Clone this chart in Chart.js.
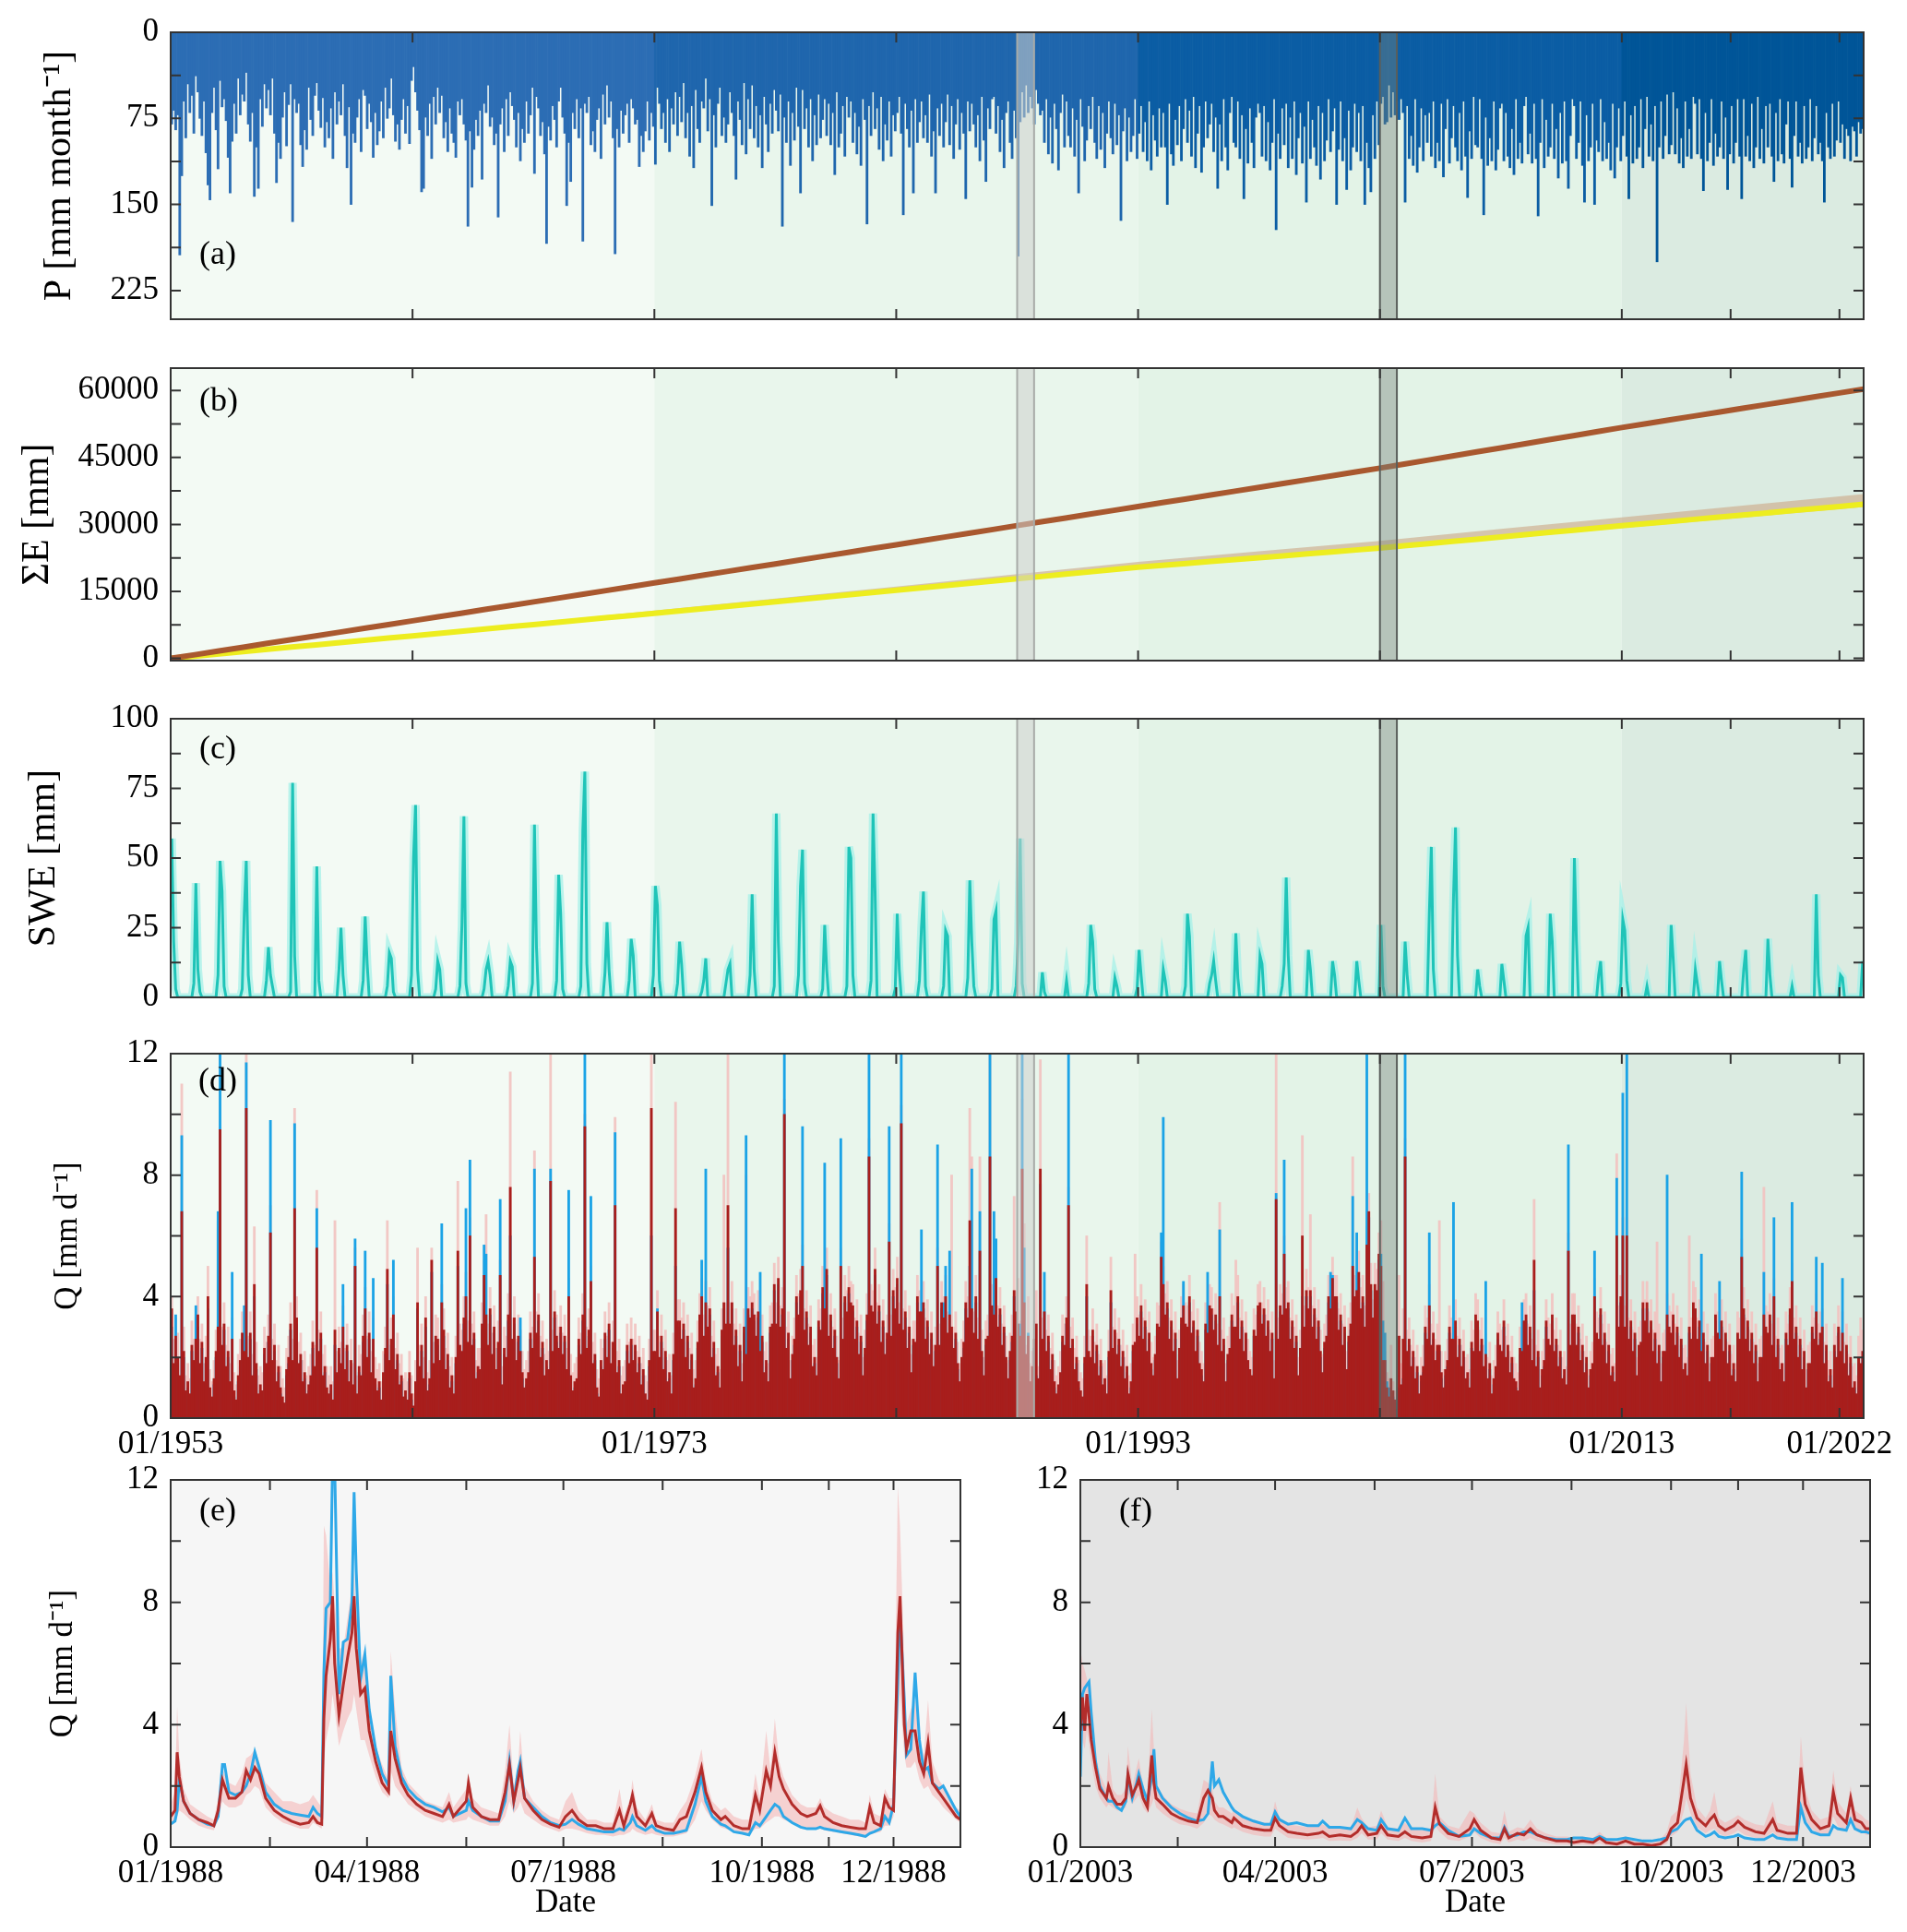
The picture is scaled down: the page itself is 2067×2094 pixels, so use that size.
<!DOCTYPE html>
<html>
<head>
<meta charset="utf-8">
<script src="https://cdn.jsdelivr.net/npm/chart.js@4.4.1/dist/chart.umd.min.js"></script>
<style>
  body { margin: 0; background: #fff; }
  #page { position: relative; width: 2067px; height: 2094px; overflow: hidden; }
  #page canvas { position: absolute; }
</style>
</head>
<body>
<div id="page">
  <canvas id="chartP" width="2067" height="380" style="left:0;top:0"></canvas>
  <canvas id="chartE" width="2067" height="385" style="left:0;top:365px"></canvas>
  <canvas id="chartS" width="2067" height="370" style="left:0;top:745px"></canvas>
  <canvas id="chartQ" width="2067" height="480" style="left:0;top:1108px"></canvas>
  <canvas id="chart88" width="1060" height="524" style="left:0;top:1570px"></canvas>
  <canvas id="chart03" width="1081" height="524" style="left:986px;top:1570px"></canvas>
</div>
<script>
// monthly precipitation, mm/month, Jan 1953 .. Dec 2022 (one row per year)
const precip = [
  80,68,85,72,194,125,60,92,45,70,55,88,
  38,52,75,90,60,105,133,146,70,48,85,119,
  42,65,58,77,109,140,95,62,88,40,72,54,
  60,35,80,95,70,143,100,136,58,82,45,66,
  50,72,40,88,131,96,110,74,52,99,63,45,
  165,58,70,62,98,117,85,102,48,76,90,55,
  44,68,83,57,100,78,92,66,110,52,80,60,
  72,45,90,118,65,150,88,96,74,58,104,50,
  55,84,62,78,109,70,98,86,60,92,48,75,
  66,40,72,95,80,102,76,58,88,64,97,42,
  30,52,68,85,139,136,74,90,62,110,56,80,
  48,70,55,92,78,104,66,88,96,109,60,72,
  58,80,94,169,86,135,102,76,90,68,128,62,
  70,46,82,74,98,88,161,80,66,104,58,90,
  52,64,76,100,70,112,84,96,60,88,72,48,
  123,56,66,90,78,106,184,82,94,64,76,100,
  60,48,74,88,151,96,130,70,84,58,92,66,
  182,62,70,56,98,86,104,76,66,110,54,80,
  46,74,60,92,193,84,100,68,88,72,62,96,
  58,66,80,76,117,90,104,86,60,94,70,82,
  115,48,62,84,70,96,58,104,66,80,52,90,
  56,78,44,92,70,108,64,118,50,84,96,60,
  66,40,86,58,151,72,100,62,48,90,74,96,
  80,52,70,90,128,60,76,98,44,106,58,84,
  46,92,64,100,72,118,56,80,104,62,88,50,
  68,86,54,169,74,96,60,116,70,94,48,82,
  140,50,84,66,100,58,112,72,98,54,92,76,
  58,90,62,98,70,124,52,100,88,64,108,56,
  74,60,96,70,106,82,116,58,76,167,64,90,
  52,84,66,102,56,112,80,94,60,108,72,86,
  70,56,88,159,62,84,100,68,140,58,96,78,
  60,92,72,96,54,108,86,140,66,90,62,100,
  78,54,98,64,110,80,58,102,70,88,145,60,
  86,62,80,100,72,112,56,94,130,66,84,58,
  56,88,64,104,76,118,70,60,96,110,68,92,
  195,78,52,74,46,70,56,66,80,50,62,72,
  68,96,58,106,74,114,62,84,120,70,54,100,
  60,90,100,66,108,76,140,58,82,112,94,64,
  84,56,96,110,64,102,70,118,88,60,92,106,
  62,98,72,164,86,66,112,74,104,90,58,110,
  88,64,104,78,112,60,120,72,94,108,66,100,
  70,100,150,62,106,116,76,98,64,112,84,58,
  96,68,108,56,118,88,64,122,100,60,92,80,
  62,104,74,136,80,112,58,100,120,70,56,96,
  100,60,110,72,145,84,114,66,96,118,74,62,
  70,108,64,112,78,120,96,58,172,88,110,66,
  98,62,118,74,110,60,124,92,70,114,82,148,
  60,110,76,100,116,64,128,70,112,94,58,104,
  86,66,150,102,60,112,92,137,68,120,100,62,
  104,70,112,64,150,96,118,139,72,110,60,98,
  62,56,80,78,46,74,52,72,60,76,58,70,
  148,64,110,90,116,58,122,100,66,112,72,96,
  70,108,60,118,96,112,62,126,84,58,114,92,
  64,100,112,70,120,60,108,144,86,110,56,98,
  100,58,110,159,74,116,92,112,60,120,102,66,
  62,112,70,108,118,84,124,58,110,96,114,64,
  56,106,88,114,62,110,160,96,58,118,76,108,
  100,62,110,84,127,70,114,60,112,136,90,58,
  64,110,96,60,116,148,72,112,100,62,150,94,
  104,58,112,78,110,96,120,62,127,100,66,112,
  90,60,108,145,72,114,64,110,100,58,118,84,
  56,108,80,112,64,200,100,60,110,90,54,106,
  98,52,106,66,114,92,118,60,108,84,110,56,
  62,106,58,110,138,70,112,96,58,116,88,108,
  100,60,110,74,137,106,64,114,96,58,108,145,
  58,108,90,112,62,118,100,56,110,84,114,64,
  100,62,108,130,70,112,58,106,114,80,60,110,
  135,90,60,108,96,114,64,110,100,58,112,92,
  64,106,96,112,148,70,100,110,62,108,94,60,
  96,80,110,84,90,112,82,86,108,78,88,84
];

// cumulative evapotranspiration, mm, at the start of each year 1953 .. 2023
const etYears = [1953,1954,1955,1956,1957,1958,1959,1960,1961,1962,1963,1964,1965,1966,1967,1968,1969,1970,1971,1972,
  1973,1974,1975,1976,1977,1978,1979,1980,1981,1982,1983,1984,1985,1986,1987,1988,1989,1990,1991,1992,
  1993,1994,1995,1996,1997,1998,1999,2000,2001,2002,2003,2004,2005,2006,2007,2008,2009,2010,2011,2012,
  2013,2014,2015,2016,2017,2018,2019,2020,2021,2022,2023];
const etObs = [0,820,1680,2510,3360,4210,5040,5880,6720,7570,8410,9260,10090,10950,11790,12640,13470,14330,15180,16040,
  16900,17750,18600,19460,20310,21160,22030,22870,23740,24590,25440,26310,27160,28020,28870,29740,30590,31440,32300,33150,
  34000,34880,35720,36590,37440,38310,39170,40030,40890,41740,
  42600,43520,44410,45330,46250,47140,48060,48980,49870,50790,
  51700,52560,53430,54280,55140,56010,56860,57730,58590,59440,60300];
const etSim = [0,490,1010,1500,2020,2530,3020,3540,4030,4550,5040,5560,6050,6570,7080,7570,8090,8580,9100,9590,
  10100,10620,11120,11650,12150,12680,13190,13710,14210,14740,15240,15770,16270,16800,17300,17830,18330,18860,19360,19890,
  20400,20840,21250,21700,22110,22560,22970,23420,23830,24270,
  24700,25210,25690,26210,26690,27210,27690,28210,28690,29210,
  29700,30190,30650,31140,31610,32100,32570,33060,33530,34020,34500];
const etBandYears = [1953,1958,1963,1968,1973,1978,1983,1988,1993,1998,2003,2008,2013,2018,2023];
const etBandHi = [0,2700,5350,8000,10700,13400,16100,18850,21600,24000,26300,29000,31600,34200,36800];
const etBandLo = [0,2480,4960,7440,9950,12450,14950,17450,19950,22100,24250,26700,29200,31550,33900];

// snow water equivalent, mm, monthly Jan 1953 .. Dec 2022
const swe = [
  57,20,3,0,0,0,0,0,0,0,0,5,  41,10,2,0,0,0,0,0,0,0,0,8,  49,38,4,0,0,0,0,0,0,0,0,3,
  30,49,8,0,0,0,0,0,0,0,0,6,  18,8,4,0,0,0,0,0,0,0,0,2,   77,15,0,0,0,0,0,0,0,0,0,0,
  47,6,0,0,0,0,0,0,0,0,0,10,  25,8,0,0,0,0,0,0,0,0,0,6,   29,12,0,0,0,0,0,0,0,0,0,4,
  16,14,2,0,0,0,0,0,0,0,0,8,  50,69,10,0,0,0,0,0,0,0,0,3, 13,10,0,0,0,0,0,0,0,0,0,4,
  26,65,5,0,0,0,0,0,0,0,0,3,  10,13,8,0,0,0,0,0,0,0,0,4,  13,11,0,0,0,0,0,0,0,0,0,5,
  62,18,0,0,0,0,0,0,0,0,0,6,  44,30,3,0,0,0,0,0,0,0,0,4,  60,81,12,0,0,0,0,0,0,0,0,9,
  27,10,0,0,0,0,0,0,0,0,0,6,  21,15,0,0,0,0,0,0,0,0,0,8,  40,33,6,0,0,0,0,0,0,0,0,5,
  20,12,0,0,0,0,0,0,0,0,0,2,  6,14,0,0,0,0,0,0,0,0,0,5,   10,12,0,0,0,0,0,0,0,0,0,8,
  37,10,0,0,0,0,0,0,0,0,0,4,  66,20,0,0,0,0,0,0,0,0,0,8,  40,53,5,0,0,0,0,0,0,0,0,3,
  26,10,0,0,0,0,0,0,0,0,0,4,  54,50,8,0,0,0,0,0,0,0,0,6,  66,38,0,0,0,0,0,0,0,0,0,3,
  30,10,0,0,0,0,0,0,0,0,0,6,  25,38,4,0,0,0,0,0,0,0,0,4,  24,22,0,0,0,0,0,0,0,0,0,7,
  42,20,4,0,0,0,0,0,0,0,0,3,  28,31,0,0,0,0,0,0,0,0,0,4,  20,57,5,0,0,0,0,0,0,0,0,0,
  9,2,0,0,0,0,0,0,0,0,0,0,    6,0,0,0,0,0,0,0,0,0,0,5,    26,20,3,0,0,0,0,0,0,0,0,0,
  7,4,0,0,0,0,0,0,0,0,0,3,    17,8,0,0,0,0,0,0,0,0,0,0,   10,6,0,0,0,0,0,0,0,0,0,4,
  30,22,0,0,0,0,0,0,0,0,0,5,  8,13,6,0,0,0,0,0,0,0,0,0,   23,7,0,0,0,0,0,0,0,0,0,0,
  15,12,0,0,0,0,0,0,0,0,0,4,  12,43,15,0,0,0,0,0,0,0,0,0, 17,10,0,0,0,0,0,0,0,0,0,0,
  13,8,0,0,0,0,0,0,0,0,0,0,   13,6,0,0,0,0,0,0,0,0,0,0,   26,4,0,0,0,0,0,0,0,0,0,0,
  20,8,0,0,0,0,0,0,0,0,0,0,   30,54,10,0,0,0,0,0,0,0,0,0, 36,61,15,0,0,0,0,0,0,0,0,0,
  10,4,0,0,0,0,0,0,0,0,0,0,   12,6,0,0,0,0,0,0,0,0,0,0,   22,25,0,0,0,0,0,0,0,0,0,0,
  30,20,0,0,0,0,0,0,0,0,0,0,  50,20,0,0,0,0,0,0,0,0,0,0,  8,13,0,0,0,0,0,0,0,0,0,5,
  28,24,6,0,0,0,0,0,0,0,0,0,  4,0,0,0,0,0,0,0,0,0,0,0,    26,14,0,0,0,0,0,0,0,0,0,0,
  10,5,0,0,0,0,0,0,0,0,0,0,   13,6,0,0,0,0,0,0,0,0,0,0,   10,17,0,0,0,0,0,0,0,0,0,0,
  21,8,0,0,0,0,0,0,0,0,0,0,   4,0,0,0,0,0,0,0,0,0,0,0,    37,8,0,0,0,0,0,0,0,0,0,0,
  8,7,0,0,0,0,0,0,0,0,0,13
];

// monthly peak discharge in 0.1 mm/d, Jan 1953 .. Dec 2022: simulated, observed, upper bound of simulation
const qSim10 = [
  36,18,27,20,14,68,22,9,12,8,24,19,    26,34,18,25,12,20,40,10,7,13,22,30,
  95,24,31,17,22,12,26,9,6,14,19,28,    22,102,20,28,14,44,18,8,11,9,23,18,
  27,61,19,24,12,17,10,7,5,16,20,31,    19,69,33,18,21,12,15,8,11,14,25,17,
  56,22,28,14,17,10,8,11,6,29,15,23,    18,30,16,24,12,19,11,50,8,17,14,27,
  36,20,28,15,26,13,9,12,6,15,23,49,    19,26,34,16,21,11,14,7,9,6,15,8,
  4,12,38,17,24,13,33,9,13,52,18,27,    26,19,38,29,16,21,10,14,8,20,55,24,
  22,33,40,25,60,24,28,13,17,16,31,47,  34,24,36,21,30,16,25,47,11,23,20,34,
  76,26,33,19,27,22,15,10,13,15,28,23,  53,28,34,20,25,14,19,16,78,22,35,27,
  23,30,21,27,16,40,14,9,12,13,26,21,   34,96,23,29,45,18,21,10,7,19,16,28,
  20,31,18,25,70,15,19,8,11,12,24,18,   26,19,24,15,20,11,16,8,6,19,102,22,
  22,35,20,27,16,22,12,15,8,21,69,32,   32,26,31,20,27,16,21,10,13,25,34,40,
  27,38,30,36,20,25,14,17,10,29,38,31,  70,31,38,24,29,17,24,12,30,21,36,33,
  38,34,27,35,22,27,15,19,12,30,31,44,  31,46,30,36,100,23,28,13,21,26,40,34,
  42,50,29,35,24,30,17,20,14,32,29,43,  36,49,27,34,23,29,20,13,50,26,40,35,
  43,38,37,26,32,21,27,14,23,34,86,37,  35,49,31,37,25,32,21,28,58,27,42,36,
  46,31,97,29,35,23,30,15,26,25,40,35,  35,38,26,32,21,28,17,24,50,24,38,33,
  40,28,34,30,23,28,18,12,20,25,38,33,  65,36,28,40,26,55,22,14,26,27,86,37,
  34,46,30,36,24,30,20,13,22,27,42,35,  31,27,82,38,21,27,12,17,26,31,13,82,
  26,35,22,27,16,21,12,8,11,15,27,24,   33,70,23,26,16,20,12,9,7,20,44,22,
  20,29,18,24,14,19,11,13,8,22,42,23,   29,21,26,17,22,13,17,8,12,24,25,33,
  27,37,26,32,22,28,18,14,21,31,30,53,  44,34,38,26,32,22,28,13,23,33,37,31,
  30,40,28,32,22,29,18,16,12,31,28,37,  36,29,34,24,40,22,26,12,21,23,34,30,
  30,40,26,32,22,28,19,16,14,29,27,37,  38,31,36,27,32,22,28,13,72,26,37,34,
  54,36,38,26,32,23,27,14,23,60,30,42,  36,42,30,36,26,32,22,15,25,27,40,36,
  46,40,40,29,34,24,30,16,27,31,50,40,  42,48,36,40,30,57,68,44,33,44,42,54,
  50,19,19,10,7,13,9,6,3,27,11,26,      86,22,26,17,22,13,17,8,14,17,30,26,
  37,24,28,19,24,24,15,10,16,19,30,26,  26,32,20,26,17,22,13,15,10,25,22,34,
  32,22,26,17,21,13,18,8,13,17,28,24,   22,32,20,24,15,20,13,12,9,23,22,32,
  34,24,30,19,52,17,22,10,16,19,32,26,  24,34,22,26,17,22,13,16,11,55,24,34,
  34,24,30,19,24,15,20,10,16,18,40,28,  26,36,24,28,18,24,14,17,12,60,30,40,
  60,30,60,26,32,22,28,14,24,25,38,32,  38,28,32,22,28,18,24,12,22,22,34,30,
  28,34,24,30,20,26,16,18,14,30,26,38,  36,26,32,22,28,18,24,12,20,20,34,28,
  26,32,22,28,18,24,14,18,12,28,26,53,  36,26,32,22,28,18,24,12,20,20,34,30,
  28,34,24,40,20,26,16,18,12,28,24,36,  45,26,30,20,26,16,22,10,18,18,30,26,
  35,24,28,30,18,24,12,16,10,24,20,30,  22,28,18,24,14,20,10,12,8,20,18,22
];
const qObs10 = [
  30,16,34,18,12,93,20,7,10,6,22,17,    37,30,16,23,10,18,36,8,5,11,20,68,
  120,22,29,15,20,10,48,7,4,12,17,26,   37,117,18,26,12,40,16,6,9,7,21,16,
  25,98,17,22,10,15,8,5,3,14,18,29,     17,97,31,16,19,10,13,6,9,12,23,15,
  69,20,26,12,15,8,6,9,4,24,13,21,      16,44,14,22,10,17,9,59,6,15,12,25,
  55,18,26,13,46,11,7,10,4,13,21,44,    17,24,52,14,19,9,12,5,7,4,13,6,
  2,10,36,15,22,11,30,7,11,48,16,25,    24,17,64,27,14,19,8,12,6,18,50,22,
  20,31,69,23,85,22,26,11,15,14,29,57,  54,22,34,19,28,14,23,72,9,21,18,32,
  60,24,31,17,25,33,13,8,11,13,26,21,   82,26,32,18,23,12,17,14,82,20,33,25,
  21,28,19,25,14,75,12,7,10,11,24,19,   32,125,21,27,73,16,19,8,5,17,14,26,
  18,29,16,23,94,13,17,6,9,10,22,16,    24,17,22,13,18,9,14,6,4,17,60,20,
  20,36,18,25,14,20,10,13,6,19,50,30,   30,24,29,18,25,14,19,8,11,23,32,52,
  25,82,28,34,18,23,12,15,8,27,36,29,   56,29,36,22,27,15,22,10,28,93,34,31,
  36,32,25,33,48,25,13,17,10,28,29,42,  29,44,28,34,125,21,26,11,19,24,38,32,
  40,96,27,33,22,28,15,18,12,30,27,41,  84,47,25,32,21,27,18,11,92,24,38,33,
  41,36,35,24,30,19,25,12,21,32,125,35, 33,47,29,35,23,30,19,26,96,25,40,34,
  44,29,125,27,33,21,28,13,24,23,38,33, 62,36,24,30,19,26,15,22,90,22,36,38,
  50,26,55,28,21,26,16,10,18,23,36,31,  50,82,26,38,24,68,20,12,24,25,125,35,
  68,59,28,34,22,28,18,11,20,25,40,33,  22,31,125,56,15,28,10,10,23,14,6,77,
  24,48,20,25,14,19,10,6,9,13,25,22,    31,125,21,24,14,18,10,7,5,18,40,20,
  18,27,16,22,12,17,9,11,6,20,38,21,    27,19,24,15,20,11,15,6,10,22,23,31,
  25,35,24,30,20,26,16,12,19,29,28,61,  99,32,36,24,30,20,26,11,21,31,45,29,
  28,38,26,30,20,27,16,14,10,29,48,35,  34,27,32,22,62,20,24,10,19,21,32,28,
  28,38,24,30,20,26,17,14,12,27,25,35,  36,29,34,25,30,20,26,11,74,24,35,32,
  85,34,36,24,30,21,25,12,21,40,28,40,  34,40,28,34,24,30,20,13,23,25,38,48,
  47,38,38,27,32,22,28,14,25,29,73,38,  61,46,34,38,28,125,66,42,31,42,40,52,
  54,32,28,12,10,7,7,5,4,10,5,13,       125,20,24,15,20,11,15,6,12,15,28,24,
  61,22,26,17,22,22,13,8,14,17,28,24,   71,30,18,24,15,20,11,13,8,23,20,32,
  30,20,24,15,45,11,16,6,11,15,26,22,   20,30,18,22,13,18,11,10,7,21,38,30,
  32,22,28,17,42,15,20,8,14,17,30,24,   22,32,20,24,15,20,11,14,9,90,22,32,
  32,22,28,17,22,13,18,8,14,16,55,26,   24,34,22,26,16,22,12,15,10,79,28,38,
  107,28,125,24,30,20,26,12,22,23,36,30, 36,26,30,20,26,16,22,10,20,20,80,28,
  26,32,22,28,18,24,14,16,12,28,24,36,  34,24,30,54,26,16,22,10,18,18,32,26,
  45,30,20,26,16,22,12,16,10,26,24,81,  34,24,30,20,26,16,22,10,18,18,48,28,
  26,32,22,66,18,24,14,16,10,26,22,34,  71,24,28,18,24,14,20,8,16,16,28,24,
  53,22,26,51,16,22,10,14,8,22,18,28,   20,46,16,22,12,18,8,10,6,18,16,20
];
const qSimHi10 = [
  40,26,33,28,20,110,30,14,18,13,32,26, 33,40,26,31,18,27,50,16,12,19,29,65,
  120,30,38,24,30,18,33,15,11,21,26,35, 29,120,27,35,21,63,25,14,17,15,30,25,
  34,70,26,31,19,24,17,13,10,23,27,38,  26,102,40,25,28,19,22,14,17,21,32,24,
  75,29,35,21,24,17,14,17,12,65,22,30,  25,37,23,31,19,26,18,56,14,24,21,34,
  43,27,35,22,33,20,16,18,12,22,30,65,  26,33,40,23,28,18,21,13,15,12,22,14,
  8,19,56,24,31,20,40,15,19,56,25,34,   33,26,44,36,23,28,17,20,14,27,78,31,
  29,40,48,32,66,31,35,19,23,23,38,52,  67,31,43,28,37,23,32,52,17,30,27,41,
  114,33,40,26,34,29,22,16,19,22,35,30, 88,35,41,27,32,21,26,22,120,29,42,34,
  30,37,28,34,23,46,21,15,18,20,33,28,  41,100,30,36,50,25,28,16,13,26,23,35,
  27,38,25,32,99,22,26,14,17,19,31,25,  33,26,31,22,27,18,23,14,12,26,125,29,
  29,42,27,34,23,29,19,21,14,28,104,39, 39,33,38,27,34,23,28,16,19,32,41,46,
  34,45,37,43,27,32,21,23,16,36,80,38,  122,38,45,31,36,24,31,18,36,80,43,40,
  45,41,34,42,29,34,22,25,18,37,38,51,  38,53,37,43,105,30,35,19,27,33,47,41,
  49,57,36,42,31,37,24,26,20,39,36,50,  43,56,34,41,30,36,27,19,56,33,47,42,
  50,45,44,33,39,28,34,20,29,41,92,44,  42,56,38,44,32,39,28,34,64,34,49,43,
  53,38,103,36,42,30,37,21,32,32,47,42, 42,45,33,39,28,35,24,30,56,31,45,40,
  47,35,41,80,30,35,25,18,26,32,45,40,  102,86,35,47,33,86,29,20,32,34,125,44,
  41,53,37,43,31,37,27,19,28,34,73,42,  46,32,105,64,24,40,18,22,32,42,17,118,
  33,42,29,34,23,28,19,14,17,22,34,31,  40,76,30,33,23,27,19,15,13,27,60,29,
  27,36,25,31,21,26,18,19,14,29,53,30,  36,28,33,24,29,20,24,14,18,31,54,40,
  34,44,33,39,29,35,25,20,27,38,37,58,  50,41,45,33,39,29,35,19,29,40,44,38,
  37,47,35,39,29,36,25,22,18,38,35,44,  43,36,41,31,71,29,33,18,27,30,41,37,
  52,47,33,39,29,35,26,22,20,36,34,44,  45,38,43,34,39,29,35,19,125,33,44,41,
  60,43,45,33,39,30,34,20,29,93,37,49,  43,67,37,43,33,39,29,21,31,34,47,43,
  53,47,47,36,41,31,37,22,33,38,86,47,  49,55,43,47,37,63,74,51,39,51,49,61,
  65,45,22,15,13,24,12,9,5,47,18,36,    92,29,33,24,29,20,24,14,20,24,37,33,
  44,31,35,26,31,65,22,16,22,26,37,33,  33,39,27,33,24,29,20,21,16,32,29,41,
  39,29,33,24,28,20,25,14,19,24,35,31,  29,39,27,31,22,27,20,18,15,30,29,39,
  41,31,37,26,72,24,29,16,22,26,39,33,  31,41,29,33,24,29,20,22,17,61,31,41,
  41,31,37,26,31,22,27,16,22,25,46,35,  33,43,31,35,25,31,21,23,18,87,37,47,
  66,37,66,33,39,29,35,20,30,32,45,39,  45,35,39,29,35,58,31,18,28,29,41,37,
  35,41,31,37,27,33,23,24,20,60,33,45,  43,33,39,29,35,25,31,18,26,27,41,35,
  33,39,29,35,25,31,21,24,18,35,33,59,  43,33,39,29,35,25,31,18,26,27,76,37,
  35,41,31,46,27,33,23,24,18,35,31,43,  51,33,37,27,33,23,29,16,24,25,37,33,
  41,31,35,36,25,31,19,22,16,31,27,37,  29,35,25,31,21,27,17,18,14,27,33,29
];

// 1988 zoom, day of year and discharge in mm/d
const days88 = [0,2,3,4,6,9,13,17,20,22,24,25,27,30,33,35,37,39,41,44,
  48,52,56,60,64,66,68,70,71,72,74,75,76,78,80,82,84,85,86,88,
  90,92,95,98,101,102,104,107,110,114,118,122,126,129,131,137,138,140,144,148,
  152,155,157,159,161,162,164,168,172,176,180,183,186,189,193,197,201,205,208,210,
  213,214,216,220,223,225,229,233,236,239,243,246,248,251,255,257,261,265,268,271,
  273,276,278,280,282,284,288,292,295,299,301,303,307,311,315,319,322,324,326,329,
  331,333,335,337,338,340,341,343,345,347,349,351,353,356,358,361,364,366];
const obs88 = [.75,.85,1.2,2.2,1.5,1.1,.9,.75,.7,1.0,2.7,2.7,1.8,1.7,1.8,2.0,2.4,3.1,2.6,1.8,
  1.4,1.2,1.1,1.05,1.0,1.3,1.1,1.0,5.7,7.8,8.0,12.5,12.5,5.0,6.7,6.8,8.0,11.6,9.0,5.5,
  6.3,4.5,3.2,2.4,2.0,5.6,3.3,2.3,1.9,1.6,1.4,1.3,1.15,1.3,1.0,1.2,1.5,1.2,1.0,.85,
  .85,1.5,2.8,1.5,2.5,2.8,1.6,1.3,1.0,.8,.7,.75,.9,.75,.6,.55,.5,.5,.6,.55,
  .8,1.0,.7,.55,.7,.55,.45,.45,.5,.55,1.4,2.3,1.5,1.0,.75,.7,.5,.45,.4,.8,
  .7,1.0,1.2,1.4,1.3,1.0,.8,.65,.6,.6,.65,.6,.55,.5,.45,.4,.35,.45,.5,.6,
  1.0,.8,1.4,5.5,7.7,4.8,3.0,3.2,5.7,3.5,2.5,2.6,2.1,1.9,2.0,1.6,1.2,1.0];
const sim88 = [1.0,1.2,3.1,2.3,1.5,1.1,.9,.8,.7,1.2,2.2,2.0,1.6,1.6,1.8,2.5,2.2,2.6,2.4,1.6,
  1.2,1.0,.85,.75,.8,1.0,.8,.75,4.2,5.6,6.8,8.2,6.0,4.3,5.3,6.2,7.0,8.2,6.5,5.0,
  5.2,3.8,2.8,2.1,1.8,3.8,2.9,2.1,1.7,1.4,1.2,1.1,1.0,1.4,1.0,1.5,2.1,1.3,1.0,.9,
  .9,1.8,2.7,1.5,2.2,2.6,1.6,1.2,.9,.75,.65,1.0,1.2,.9,.7,.7,.6,.6,1.2,.7,
  1.4,1.7,1.0,.7,1.1,.7,.6,.55,.9,1.0,1.8,2.6,1.8,1.2,.9,1.0,.7,.6,.6,1.7,
  1.2,2.5,2.0,3.1,2.3,1.9,1.4,1.1,1.0,1.1,1.35,1.0,.8,.7,.65,.6,.6,1.3,.8,.7,
  1.6,1.3,1.2,7.0,8.2,4.0,3.2,3.8,3.8,2.8,2.4,3.4,2.1,1.8,1.6,1.3,1.0,.9];
const simHi88 = [1.4,1.8,4.6,3.0,1.9,1.4,1.2,1.0,.9,1.6,2.6,2.4,2.1,2.0,2.4,2.9,3.0,3.2,2.8,2.1,
  1.8,1.5,1.5,1.4,1.5,1.7,1.5,1.3,10.5,10.2,8.5,9.0,8.0,6.5,6.5,7.5,8.5,9.0,7.5,6.0,
  6.5,4.5,3.3,2.7,2.2,6.4,4.5,2.6,2.1,1.8,1.5,1.4,1.3,1.8,1.3,1.9,2.4,1.6,1.3,1.2,
  1.1,2.5,4.0,2.0,2.6,3.8,2.0,1.5,1.2,1.0,.9,1.5,1.8,1.2,.9,.9,.8,.8,1.9,1.0,
  1.6,2.2,1.3,.9,1.4,.9,.8,.8,1.2,1.5,2.3,3.2,2.2,1.5,1.2,1.3,1.0,.9,.9,2.4,
  1.6,3.8,2.5,4.2,2.8,2.3,1.7,1.4,1.3,1.3,1.6,1.3,1.1,1.0,.9,.9,.8,1.7,1.1,1.0,
  1.9,1.6,1.6,11.8,10.5,6.0,4.0,4.5,4.8,3.5,3.0,4.8,2.8,2.2,2.0,1.6,1.3,1.2];
const simLo88 = [.7,.8,1.0,1.2,1.1,.9,.7,.6,.55,.9,1.5,1.4,1.3,1.3,1.4,1.7,1.8,2.0,1.9,1.3,
  1.0,.8,.7,.6,.6,.8,.7,.6,2.8,3.5,4.2,5.0,4.5,3.3,3.8,4.2,4.5,5.0,4.5,3.5,
  3.5,3.0,2.3,1.8,1.6,2.5,2.0,1.7,1.4,1.2,1.0,.9,.8,.9,.8,.9,1.0,.9,.8,.7,
  .7,1.0,1.5,1.1,1.3,1.5,1.1,.9,.7,.6,.5,.6,.6,.55,.45,.4,.4,.35,.4,.4,
  .5,.6,.5,.4,.45,.4,.35,.35,.4,.45,.9,1.5,1.2,.9,.65,.6,.5,.45,.4,.6,
  .6,.8,.9,1.0,1.0,.9,.8,.65,.6,.6,.6,.55,.5,.45,.4,.35,.3,.4,.45,.5,
  .7,.7,1.0,4.0,5.0,3.0,2.6,2.6,2.8,2.2,1.9,2.0,1.7,1.5,1.3,1.1,.9,.8];

// 2003 zoom
const days03 = [0,1,2,3,4,5,7,9,12,13,15,17,19,21,22,24,26,27,29,31,
  33,34,35,38,42,46,50,54,57,59,61,62,64,66,70,71,75,80,85,88,
  90,92,96,100,105,110,112,115,120,125,128,130,133,137,139,142,147,150,153,158,
  162,164,166,170,175,180,182,185,190,194,196,198,202,205,208,211,215,220,225,228,
  232,237,240,243,248,252,256,260,264,268,271,273,276,279,280,282,285,289,291,293,
  295,298,302,304,307,312,316,320,322,327,331,333,335,338,342,346,348,350,354,356,
  358,361,363,365];
const obs03 = [2.3,5.0,5.2,5.3,5.4,4.4,2.8,2.0,1.6,1.5,1.5,1.3,1.2,1.5,2.3,1.6,2.1,2.4,1.9,1.5,
  2.3,3.2,2.0,1.6,1.3,1.1,.95,.85,.9,1.1,2.8,2.0,2.2,1.8,1.3,1.2,1.0,.85,.75,.75,
  1.15,.9,.75,.8,.7,.7,.85,.65,.65,.6,.9,.8,.6,.55,.9,.6,.55,.95,.6,.6,
  .55,.7,.8,.55,.35,.4,.6,.45,.3,.3,.65,.35,.4,.5,.5,.4,.3,.25,.25,.3,
  .3,.25,.35,.25,.25,.3,.25,.2,.2,.25,.3,.5,.6,.85,.9,.95,.55,.35,.4,.5,
  .35,.3,.35,.4,.3,.25,.25,.4,.3,.25,.25,1.3,.8,.5,.4,.4,.7,.6,.55,.9,
  .6,.5,.5,.45];
const sim03 = [3.8,4.9,3.8,5.0,4.3,3.5,2.6,1.9,1.6,2.0,1.6,1.4,1.4,1.6,2.4,1.7,2.0,2.2,1.6,1.3,
  3.0,2.1,1.6,1.4,1.1,.95,.85,.8,1.6,1.85,1.6,1.2,1.0,1.0,.8,.95,.7,.6,.55,.55,
  .95,.7,.5,.45,.4,.45,.5,.35,.4,.35,.5,.7,.4,.45,.7,.4,.35,.5,.35,.3,
  .35,1.3,.75,.45,.35,.6,.9,.55,.3,.25,.6,.3,.45,.4,.6,.4,.3,.2,.2,.15,
  .2,.15,.3,.15,.1,.2,.1,.1,.05,.1,.25,.6,.8,2.2,2.7,1.6,.95,.7,.9,1.05,
  .7,.55,.7,.85,.65,.5,.45,.9,.55,.45,.45,2.6,1.4,.9,.6,.7,1.8,1.1,.8,1.6,
  .9,.8,.6,.6];
const simHi03 = [6.5,6.0,5.8,5.5,5.0,4.2,3.0,2.4,1.9,3.1,1.9,1.7,1.7,1.9,3.3,2.0,2.6,2.9,2.0,1.7,
  4.5,3.2,2.0,1.7,1.4,1.25,1.15,1.1,2.2,2.1,1.9,1.5,1.3,1.3,1.1,1.2,.95,.85,.8,.8,
  1.5,.95,.75,.7,.65,.7,.75,.6,.65,.6,1.3,.95,.65,.7,1.2,.65,.6,.8,.6,.55,
  .6,2.4,1.0,.7,.6,1.2,1.1,.8,.5,.45,1.2,.5,.65,.6,.9,.6,.45,.35,.35,.3,
  .35,.3,.5,.3,.25,.35,.25,.25,.2,.25,.5,1.0,1.2,3.5,4.7,2.4,1.3,.95,1.2,1.8,
  .95,.8,.95,1.05,.9,.75,.7,1.5,.8,.7,.7,3.6,1.9,1.2,.9,1.0,2.5,1.5,1.1,2.0,
  1.2,1.05,.9,.85];
const simLo03 = [2.6,3.5,3.2,3.8,3.4,2.8,2.0,1.6,1.3,1.4,1.3,1.2,1.2,1.3,1.7,1.4,1.6,1.7,1.3,1.1,
  1.4,1.6,1.3,1.1,.9,.75,.7,.6,.8,1.1,1.0,.9,.8,.75,.6,.65,.5,.4,.35,.35,
  .6,.5,.3,.28,.25,.28,.3,.2,.22,.2,.3,.45,.25,.25,.45,.25,.2,.3,.2,.15,
  .2,.7,.5,.25,.2,.35,.5,.3,.15,.1,.3,.15,.25,.2,.3,.2,.15,.08,.08,.05,
  .08,.05,.12,.05,.03,.05,.03,.02,0,.02,.1,.35,.5,1.2,1.6,1.1,.65,.45,.55,.6,
  .45,.35,.45,.55,.4,.3,.28,.5,.35,.28,.28,1.4,.9,.6,.4,.45,1.0,.7,.55,.9,
  .6,.55,.4,.4];

// axes
const yearTicks = [1953, 1963, 1973, 1983, 1993, 2003, 2013, 2017.5, 2022];
const yearLabels = ['01/1953', '', '01/1973', '', '01/1993', '', '01/2013', '', '01/2022'];
const ticks88 = [0, 46, 91, 137, 182, 228, 274, 305, 335];
const labels88 = ['01/1988', '', '04/1988', '', '07/1988', '', '10/1988', '', '12/1988'];
const ticks03 = [0, 45, 90, 136, 181, 227, 273, 304, 334];
const labels03 = ['01/2003', '', '04/2003', '', '07/2003', '', '10/2003', '', '12/2003'];

const periodEdges = [1953, 1973, 1993, 2013, 2023];
const periodFill = ['#f3faf4', '#e9f6ec', '#e3f3e7', '#dbebe1'];
const periodBar = ['#2c6db4', '#1f66ad', '#0b5da4', '#005598'];
const zoomBoxes = [
  { from: 1988, to: 1988.7, fill: 'rgba(205,208,205,0.55)', line: '#a8aba8' },
  { from: 2003, to: 2003.7, fill: 'rgba(120,130,124,0.42)', line: '#5a5e5b' }
];

const monthX = i => 1953 + (i + 0.5) / 12;
const periodOf = x => { let k = 0; while (k < 3 && x >= periodEdges[k + 1]) k++; return k; };
const serif = "'Liberation Serif', 'Times New Roman', serif";

Chart.defaults.font.family = serif;
Chart.defaults.color = '#000';

const panelFrame = {
  id: 'panelFrame',
  beforeDatasetsDraw(chart, args, opts) {
    const { ctx, chartArea: a, scales: { x } } = chart;
    ctx.save();
    if (opts.background) {
      ctx.fillStyle = opts.background;
      ctx.fillRect(a.left, a.top, a.width, a.height);
    }
    if (opts.periods) {
      for (let k = 0; k < 4; k++) {
        const x0 = x.getPixelForValue(periodEdges[k]);
        const x1 = x.getPixelForValue(periodEdges[k + 1]);
        ctx.fillStyle = periodFill[k];
        ctx.fillRect(x0, a.top, x1 - x0, a.height);
      }
    }
    ctx.restore();
  },
  afterDatasetsDraw(chart, args, opts) {
    if (!opts.periods) return;
    const { ctx, chartArea: a, scales: { x } } = chart;
    ctx.save();
    zoomBoxes.forEach(b => {
      const x0 = x.getPixelForValue(b.from);
      const x1 = x.getPixelForValue(b.to);
      ctx.fillStyle = b.fill;
      ctx.fillRect(x0, a.top, x1 - x0, a.height);
      ctx.strokeStyle = b.line;
      ctx.lineWidth = 2;
      ctx.strokeRect(x0, a.top, x1 - x0, a.height);
    });
    ctx.restore();
  },
  afterDraw(chart, args, opts) {
    const { ctx, chartArea: a, scales: { x, y } } = chart;
    const len = 11;
    ctx.save();
    ctx.strokeStyle = '#333';
    ctx.lineWidth = 2;
    ctx.beginPath();
    (opts.xTicks || []).forEach(v => {
      const px = x.getPixelForValue(v);
      ctx.moveTo(px, a.bottom); ctx.lineTo(px, a.bottom - len);
      ctx.moveTo(px, a.top); ctx.lineTo(px, a.top + len);
    });
    y.ticks.forEach(t => {
      const py = y.getPixelForValue(t.value);
      ctx.moveTo(a.left, py); ctx.lineTo(a.left + len, py);
      ctx.moveTo(a.right, py); ctx.lineTo(a.right - len, py);
    });
    ctx.stroke();
    ctx.strokeRect(a.left, a.top, a.width, a.height);
    if (opts.letter) {
      ctx.fillStyle = '#000';
      ctx.font = '36px ' + serif;
      ctx.textAlign = 'center';
      ctx.textBaseline = 'middle';
      ctx.fillText(opts.letter, a.left + opts.letterAt[0], a.top + opts.letterAt[1]);
    }
    ctx.restore();
  }
};
Chart.register(panelFrame);

function yScale(o) {
  return {
    type: 'linear', min: o.min, max: o.max, reverse: !!o.reverse,
    afterFit: s => { s.width = 185; },
    afterBuildTicks: s => { s.ticks = o.ticks.map(v => ({ value: v })); },
    grid: { display: false, drawTicks: false },
    border: { display: false },
    ticks: { autoSkip: false, padding: 13, font: { size: 35 }, callback: v => (o.labels.includes(v) ? String(v) : '') },
    title: o.title
      ? { display: true, text: o.title, font: { size: o.titleSize }, padding: { top: o.titlePad, bottom: 0 } }
      : { display: false }
  };
}

function xScale(o) {
  return {
    type: 'linear', min: o.min, max: o.max, offset: false, display: !!o.labels,
    afterFit: s => { s.height = o.height || 0; },
    afterBuildTicks: s => { if (o.labels) s.ticks = o.ticks.map(v => ({ value: v })); },
    grid: { display: false, drawTicks: false },
    border: { display: false },
    ticks: { autoSkip: false, maxRotation: 0, padding: 8, font: { size: 35 }, callback: (v, i) => (o.labels ? o.labels[i] : '') },
    title: o.title
      ? { display: true, text: o.title, font: { size: 35 }, padding: { top: 0, bottom: 10 } }
      : { display: false }
  };
}

function baseOptions(pad, scales, frame) {
  return {
    responsive: false, animation: false, devicePixelRatio: 1,
    layout: { padding: pad },
    scales,
    plugins: { legend: { display: false }, tooltip: { enabled: false }, panelFrame: frame },
    elements: { point: { radius: 0 }, line: { tension: 0 } }
  };
}

const pts = (xs, ys) => ys.map((v, i) => ({ x: xs[i], y: v }));
const monthly = (ys, scale) => ys.map((v, i) => ({ x: monthX(i), y: v * scale }));
const column = { borderWidth: 0, barPercentage: 1, categoryPercentage: 1, grouped: false };

// (a) precipitation
new Chart(document.getElementById('chartP'), {
  type: 'bar',
  data: {
    datasets: [{
      ...column,
      data: monthly(precip, 1),
      backgroundColor: c => periodBar[periodOf(c.raw ? c.raw.x : 1953)]
    }]
  },
  options: baseOptions({ top: 35, bottom: 21, left: 0, right: 47 }, {
    x: xScale({ min: 1953, max: 2023 }),
    y: yScale({ min: 0, max: 250, reverse: true, ticks: [0, 37.5, 75, 112.5, 150, 187.5, 225], labels: [0, 75, 150, 225],
      title: 'P [mm month\u207B\u00B9]', titleSize: 42, titlePad: 40 })
  }, { periods: true, xTicks: yearTicks, letter: '(a)', letterAt: [51, 242] })
});

// (b) cumulative evapotranspiration
new Chart(document.getElementById('chartE'), {
  type: 'line',
  data: {
    datasets: [
      { data: pts(etYears, etObs), borderColor: '#a9582f', borderWidth: 6, fill: false },
      { data: pts(etYears, etSim), borderColor: '#eded1f', borderWidth: 6, fill: false },
      { data: pts(etBandYears, etBandHi), borderWidth: 0, borderColor: 'rgba(0,0,0,0)', backgroundColor: 'rgba(206,172,140,0.65)', fill: '+1' },
      { data: pts(etBandYears, etBandLo), borderWidth: 0, borderColor: 'rgba(0,0,0,0)', fill: false }
    ]
  },
  options: baseOptions({ top: 26, bottom: 17, left: 0, right: 47 }, {
    x: xScale({ min: 1953, max: 2023 }),
    y: yScale({ min: -500, max: 65000, ticks: [0, 7500, 15000, 22500, 30000, 37500, 45000, 52500, 60000],
      labels: [0, 15000, 30000, 45000, 60000], title: '\u03A3E [mm]', titleSize: 42, titlePad: 16 })
  }, { periods: true, xTicks: yearTicks, letter: '(b)', letterAt: [52, 37] })
});

// (c) snow water equivalent
new Chart(document.getElementById('chartS'), {
  type: 'line',
  data: {
    datasets: [
      { data: monthly(swe, 1), borderColor: '#1fc4b8', borderWidth: 3, fill: false },
      { data: monthly(swe, 1), borderColor: 'rgba(165,240,232,0.75)', borderWidth: 9, fill: false }
    ]
  },
  options: baseOptions({ top: 28, bottom: 18, left: 0, right: 47 }, {
    x: xScale({ min: 1953, max: 2023 }),
    y: yScale({ min: 0, max: 100, ticks: [0, 12.5, 25, 37.5, 50, 62.5, 75, 87.5, 100], labels: [0, 25, 50, 75, 100],
      title: 'SWE [mm]', titleSize: 42, titlePad: 23 })
  }, { periods: true, xTicks: yearTicks, letter: '(c)', letterAt: [51, 34] })
});

// (d) discharge, drawn as monthly columns: simulated on top, observed, then the simulation upper bound
new Chart(document.getElementById('chartQ'), {
  type: 'bar',
  data: {
    datasets: [
      { ...column, data: monthly(qSim10, 0.1), backgroundColor: '#a81e1c', order: 1 },
      { ...column, data: monthly(qObs10, 0.1), backgroundColor: '#1ba3e6', order: 2 },
      { ...column, data: monthly(qSimHi10, 0.1), backgroundColor: 'rgba(242,194,192,0.9)', order: 3 }
    ]
  },
  options: baseOptions({ top: 28, bottom: 0, left: 0, right: 47 }, {
    x: xScale({ min: 1953, max: 2023, ticks: yearTicks, labels: yearLabels, height: 51 }),
    y: yScale({ min: 0, max: 12, ticks: [0, 2, 4, 6, 8, 10, 12], labels: [0, 4, 8, 12],
      title: 'Q [mm d\u207B\u00B9]', titleSize: 35, titlePad: 53 })
  }, { periods: true, xTicks: yearTicks, letter: '(d)', letterAt: [51, 31] })
});

function zoomChart(id, days, obs, sim, hi, lo, o) {
  new Chart(document.getElementById(id), {
    type: 'line',
    data: {
      datasets: [
        { data: pts(days, sim), borderColor: '#b32d2b', borderWidth: 3, fill: false },
        { data: pts(days, obs), borderColor: '#2ea8e8', borderWidth: 3, fill: false },
        { data: pts(days, hi), borderWidth: 0, borderColor: 'rgba(0,0,0,0)', backgroundColor: 'rgba(244,178,178,0.55)', fill: '+1' },
        { data: pts(days, lo), borderWidth: 0, borderColor: 'rgba(0,0,0,0)', fill: false }
      ]
    },
    options: baseOptions({ top: 30, bottom: 0, left: 0, right: o.right }, {
      x: xScale({ min: 0, max: o.max, ticks: o.ticks, labels: o.labels, height: 92, title: 'Date' }),
      y: yScale({ min: 0, max: 12, ticks: [0, 2, 4, 6, 8, 10, 12], labels: [0, 4, 8, 12],
        title: o.ytitle, titleSize: 35, titlePad: 48 })
    }, { background: o.bg, xTicks: o.ticks, letter: o.letter, letterAt: o.letterAt })
  });
}

// (e) 1988 and (f) 2003
zoomChart('chart88', days88, obs88, sim88, simHi88, simLo88,
  { max: 366, ticks: ticks88, labels: labels88, right: 19, bg: '#f6f6f6', ytitle: 'Q [mm d\u207B\u00B9]', letter: '(e)', letterAt: [51, 35] });
zoomChart('chart03', days03, obs03, sim03, simHi03, simLo03,
  { max: 365, ticks: ticks03, labels: labels03, right: 40, bg: '#e4e4e4', ytitle: null, letter: '(f)', letterAt: [60, 35] });
</script>
</body>
</html>
